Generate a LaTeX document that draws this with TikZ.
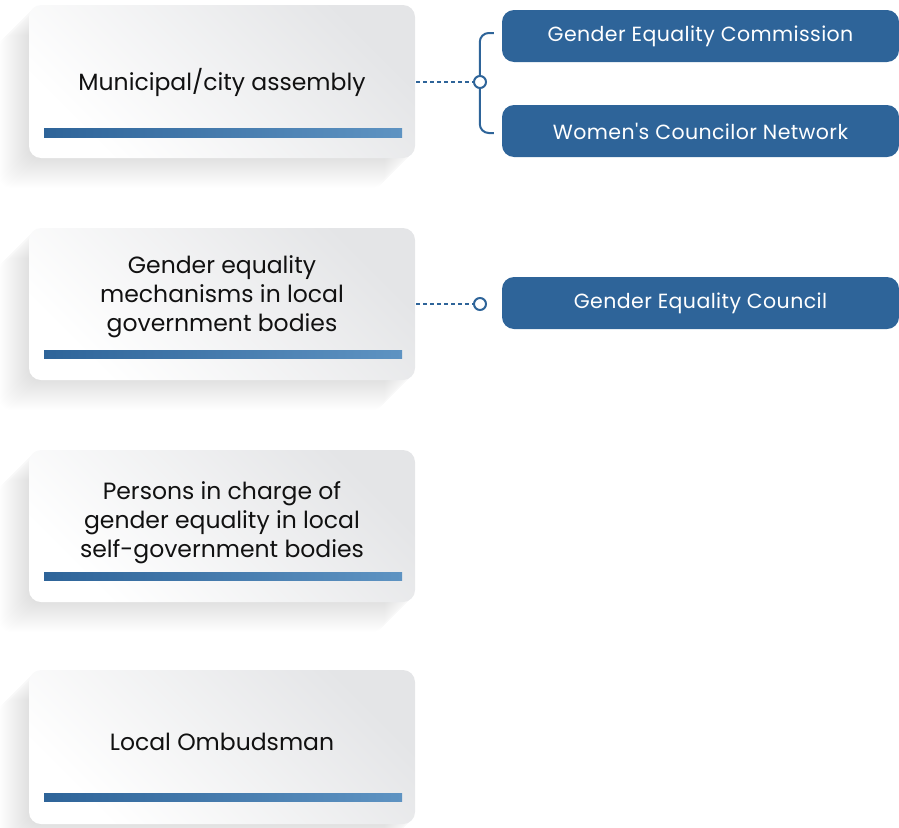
\documentclass[tikz,border=0pt]{standalone}
\usepackage{fontspec}
\setmainfont{Poppins}
\newfontfamily\popp{Poppins}
\newfontfamily\poppwide{Poppins}[LetterSpace=2]
\definecolor{dblue}{HTML}{2E6499}
\definecolor{lblue}{HTML}{5E93C2}
\definecolor{lgray}{HTML}{E4E5E7}
\definecolor{txt}{HTML}{111111}
\tikzset{
  cardbox/.style={rounded corners=12pt, top color=lgray, bottom color=white, shading angle=-45},
  cardbar/.style={left color=dblue, right color=lblue},
  cardtext/.style={font=\popp\fontsize{23.5}{29}\selectfont, text=txt, align=center},
  bluebox/.style={fill=dblue, rounded corners=12pt, minimum width=397pt, minimum height=52pt, text=white, font=\poppwide\fontsize{20.5}{24}\selectfont},
  dotline/.style={draw=dblue, line width=2pt, dash pattern=on 4pt off 3pt},
  knob/.style={circle, draw=dblue, line width=2pt, fill=white, minimum size=12pt, inner sep=0pt},
  bracket/.style={draw=dblue, line width=2pt, rounded corners=9pt}
}
\newcommand{\cardshadow}[2]{%
  \foreach \k in {1,...,30}{
    \fill[black, opacity=0.0045, rounded corners=12pt] (29-\k,#1+\k) rectangle (415-\k,#2+\k);
  }}
\begin{document}
\begin{tikzpicture}[x=1pt,y=-1pt]
\useasboundingbox (0,0) rectangle (899,827);
% shadows
\cardshadow{5}{158}
\cardshadow{228}{380}
\cardshadow{450}{602}
\cardshadow{670}{824}
% cards
\shade[cardbox] (29,5) rectangle (415,158);
\shade[cardbox] (29,228) rectangle (415,380);
\shade[cardbox] (29,450) rectangle (415,602);
\shade[cardbox] (29,670) rectangle (415,824);
% bars
\shade[cardbar] (44,128) rectangle (402,137);
\shade[cardbar] (44,350) rectangle (402,358);
\shade[cardbar] (44,572) rectangle (402,580);
\shade[cardbar] (44,793) rectangle (402,801);
% card texts
\node[cardtext] (t1) at (222,82) {Municipal/city assembly};
\node[cardtext] (t2) at (222,297) {Gender equality\\mechanisms in local\\government bodies};
\node[cardtext] (t3) at (222,523) {Persons in charge of\\gender equality in local\\self-government bodies};
\node[cardtext] (t4) at (222,742) {Local Ombudsman};
\coordinate (e1) at (416,82);
\coordinate (e2) at (416,304);
% right boxes
\node[bluebox] (b1) at (700.5,36) {\raisebox{-1.5pt}{Gender Equality Commission}};
\node[bluebox] (b2) at (700.5,131) {\raisebox{-1.5pt}{Women's Councilor Network}};
\node[bluebox] (b3) at (700.5,303) {\raisebox{-1.5pt}{Gender Equality Council}};
% connectors
\draw[bracket] (b1.west) ++(-8,-3) -- ++(-14,0) |- ([shift={(-8,2)}]b2.west);
\node[knob] (k1) at (480,82) {};
\node[knob] (k2) at (480,304) {};
\draw[dotline] (e1) -- (k1.west);
\draw[dotline] (e2) -- (k2.west);
\end{tikzpicture}
\end{document}
